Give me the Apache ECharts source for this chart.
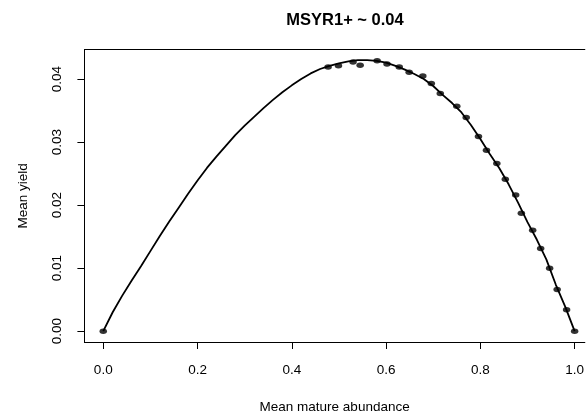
<!DOCTYPE html>
<html>
<head>
<meta charset="utf-8">
<script src="https://cdn.jsdelivr.net/npm/echarts@6/dist/echarts.min.js"></script>
<style>
  html, body { margin: 0; padding: 0; background: #fff; }
  #chart { width: 587px; height: 419px; }
</style>
</head>
<body>
<div id="chart"></div>
<script>
// Fitted yield curve (mean yield against mean mature abundance)
const curveX = [0, 0.02, 0.04, 0.06, 0.08, 0.10, 0.12, 0.14, 0.16, 0.18, 0.20,
  0.22, 0.24, 0.26, 0.28, 0.30, 0.32, 0.34, 0.36, 0.38, 0.40, 0.42, 0.44, 0.46,
  0.48, 0.50, 0.52, 0.54, 0.56, 0.58, 0.60, 0.62, 0.64, 0.66, 0.68, 0.70, 0.72,
  0.74, 0.76, 0.78, 0.80, 0.82, 0.84, 0.86, 0.88, 0.90, 0.92, 0.94, 0.96, 0.98, 1.00];
const curveY = [0, 0.0030, 0.0056, 0.0080, 0.0103, 0.0127, 0.0151, 0.0174, 0.0196,
  0.0218, 0.0239, 0.0259, 0.0277, 0.0294, 0.0311, 0.0326, 0.0340, 0.0354, 0.0367,
  0.0379, 0.0390, 0.0400, 0.0409, 0.0416, 0.0421, 0.0425, 0.0428, 0.0430, 0.0430,
  0.0429, 0.0426, 0.0421, 0.0415, 0.0408, 0.0400, 0.0389, 0.0375, 0.0362, 0.0347,
  0.0327, 0.0305, 0.0281, 0.0259, 0.0233, 0.0204, 0.0173, 0.0145, 0.0114, 0.0074,
  0.0039, 0];

// Simulated yields at individual abundance levels
const pointX = [0, 0.477, 0.499, 0.530, 0.545, 0.581, 0.602, 0.628, 0.649, 0.678,
  0.696, 0.715, 0.750, 0.770, 0.796, 0.813, 0.835, 0.853, 0.875, 0.887, 0.911,
  0.928, 0.947, 0.963, 0.983, 1.000];
const pointY = [0, 0.0419, 0.0421, 0.0427, 0.0422, 0.0429, 0.0424, 0.0419, 0.0411,
  0.0405, 0.0393, 0.0377, 0.0357, 0.0339, 0.0309, 0.0287, 0.0266, 0.0241, 0.0216,
  0.0187, 0.0160, 0.0131, 0.0100, 0.0066, 0.0034, 0];

const xTicks = [0, 0.2, 0.4, 0.6, 0.8, 1.0];
const yTicks = [0, 0.01, 0.02, 0.03, 0.04];

const FONT = '"Liberation Sans", Arial, Helvetica, sans-serif';

const chart = echarts.init(document.getElementById('chart'), null, { renderer: 'canvas' });

const frameLine = { show: true, onZero: false, lineStyle: { color: '#000', width: 1 } };

chart.setOption({
  animation: false,
  backgroundColor: '#ffffff',
  title: {
    text: 'MSYR1+ ~ 0.04',
    left: 340,
    top: 7,
    textAlign: 'center',
    textStyle: { fontFamily: FONT, fontSize: 16.5, fontWeight: 'bold', color: '#000' }
  },
  // the plotting frame runs past the right edge of the canvas
  grid: {
    left: 84.4,
    top: 49.7,
    right: 0,
    bottom: 419 - 346,
    show: false
  },
  xAxis: [
    {
      type: 'value',
      position: 'bottom',
      min: -0.04,
      max: 1.0217,
      name: 'Mean mature abundance',
      nameLocation: 'middle',
      nameGap: 58,
      nameTextStyle: { fontFamily: FONT, fontSize: 13.5, color: '#000' },
      axisLine: frameLine,
      splitLine: { show: false },
      axisTick: { show: true, inside: false, length: 7, customValues: xTicks,
        lineStyle: { color: '#000', width: 1 } },
      axisLabel: { show: true, margin: 21, customValues: xTicks,
        fontFamily: FONT, fontSize: 13.5, color: '#000',
        formatter: v => v.toFixed(1) }
    },
    {
      type: 'value',
      position: 'top',
      min: -0.04,
      max: 1.0217,
      axisLine: frameLine,
      axisTick: { show: false },
      axisLabel: { show: false },
      splitLine: { show: false }
    }
  ],
  yAxis: {
    type: 'value',
    min: -0.00172,
    max: 0.04466,
    name: 'Mean yield',
    nameLocation: 'middle',
    nameGap: 54,
    nameRotate: 90,
    nameTextStyle: { fontFamily: FONT, fontSize: 13.5, color: '#000' },
    axisLine: frameLine,
    splitLine: { show: false },
    axisTick: { show: true, inside: false, length: 7, customValues: yTicks,
      lineStyle: { color: '#000', width: 1 } },
    axisLabel: { show: true, rotate: 90, margin: 20, customValues: yTicks,
      fontFamily: FONT, fontSize: 13.5, color: '#000',
      formatter: v => v.toFixed(2) }
  },
  series: [
    {
      type: 'line',
      xAxisIndex: 0,
      data: curveX.map((x, i) => [x, curveY[i]]),
      showSymbol: false,
      smooth: false,
      lineStyle: { color: '#000', width: 1.8 },
      z: 2
    },
    {
      type: 'scatter',
      xAxisIndex: 0,
      data: pointX.map((x, i) => [x, pointY[i]]),
      symbol: 'circle',
      symbolSize: [7.5, 5.5],
      itemStyle: { color: '#000' },
      z: 3
    }
  ]
});
</script>
</body>
</html>
